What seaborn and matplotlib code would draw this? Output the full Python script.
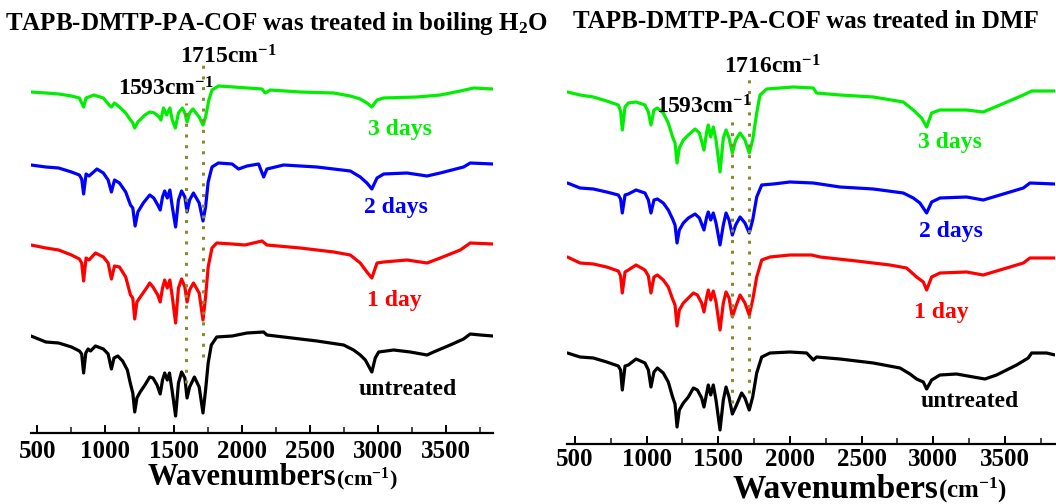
import matplotlib
matplotlib.use("Agg")
import matplotlib.pyplot as plt
import seaborn as sns
import numpy as np

# ---------------- data (wavenumber, relative transmittance in arbitrary units) ----------------
# Left panel: treated in boiling H2O
L_untreated_wn = [454, 563, 657, 751, 809, 826, 840, 856, 873, 891, 927, 985, 1020, 1044, 1063, 1091, 1126, 1161, 1184, 1201, 1215, 1231, 1255, 1290, 1325, 1349, 1379, 1402, 1419, 1435, 1454, 1470, 1489, 1515, 1536, 1559, 1583, 1599, 1618, 1653, 1688, 1716, 1735, 1754, 1777, 1817, 1930, 2039, 2161, 2185, 2308, 2552, 2748, 2821, 2870, 2907, 2955, 2980, 3005, 3115, 3237, 3360, 3408, 3530, 3628, 3677, 3751, 3844]
L_untreated_T = [97, 91, 90, 86, 82, 79, 60, 80, 84, 82, 87, 84, 79, 64, 75, 77, 72, 63, 49, 40, 21, 35, 41, 48, 56, 55, 48, 39, 53, 60, 53, 60, 43, 17, 50, 61, 55, 35, 46, 56, 46, 20, 43, 70, 88, 96, 97, 100, 101, 98, 96, 92, 88, 83, 78, 73, 61, 75, 81, 83, 81, 78, 81, 88, 94, 99, 98, 97]

L_1day_wn = [454, 563, 657, 751, 809, 826, 840, 858, 880, 927, 985, 1020, 1044, 1067, 1103, 1149, 1184, 1201, 1215, 1231, 1266, 1302, 1325, 1349, 1384, 1402, 1419, 1435, 1454, 1473, 1491, 1515, 1536, 1559, 1583, 1599, 1618, 1646, 1688, 1716, 1735, 1754, 1782, 1817, 1930, 2024, 2149, 2185, 2430, 2675, 2797, 2870, 2919, 2955, 2993, 3042, 3213, 3360, 3457, 3604, 3677, 3844]
L_1day_T = [188, 185, 183, 178, 174, 170, 152, 175, 173, 180, 176, 170, 154, 167, 166, 156, 138, 135, 114, 131, 138, 145, 150, 146, 138, 131, 145, 153, 145, 153, 136, 110, 145, 154, 146, 131, 143, 150, 140, 113, 136, 166, 185, 190, 189, 188, 192, 188, 185, 181, 178, 170, 161, 155, 170, 171, 173, 170, 175, 183, 190, 189]

L_2days_wn = [454, 563, 657, 751, 809, 826, 840, 858, 880, 938, 985, 1020, 1044, 1067, 1103, 1149, 1184, 1201, 1218, 1238, 1278, 1325, 1355, 1384, 1402, 1419, 1435, 1454, 1473, 1491, 1515, 1536, 1559, 1583, 1599, 1618, 1646, 1688, 1716, 1735, 1754, 1782, 1829, 1930, 1977, 2039, 2124, 2161, 2185, 2308, 2552, 2797, 2870, 2919, 2955, 2993, 3042, 3213, 3360, 3457, 3628, 3677, 3844]
L_2days_T = [268, 266, 265, 261, 258, 254, 239, 259, 257, 264, 260, 253, 241, 253, 250, 241, 228, 225, 207, 221, 230, 238, 235, 228, 223, 236, 242, 235, 243, 226, 206, 233, 242, 236, 221, 233, 240, 230, 212, 226, 251, 266, 270, 269, 264, 267, 269, 256, 264, 268, 266, 262, 256, 250, 244, 255, 259, 260, 257, 260, 266, 270, 269]

L_3days_wn = [454, 563, 657, 751, 809, 840, 858, 915, 985, 1027, 1044, 1067, 1103, 1149, 1184, 1201, 1215, 1238, 1290, 1325, 1360, 1395, 1407, 1426, 1449, 1473, 1491, 1513, 1536, 1564, 1583, 1599, 1618, 1642, 1688, 1716, 1735, 1759, 1782, 1829, 1941, 2149, 2173, 2210, 2430, 2675, 2797, 2870, 2919, 2955, 2993, 3042, 3286, 3457, 3604, 3702, 3844]
L_3days_T = [341, 340, 339, 337, 335, 326, 335, 338, 335, 328, 326, 330, 326, 320, 313, 310, 305, 311, 318, 321, 320, 316, 313, 325, 318, 325, 313, 305, 320, 325, 320, 311, 320, 324, 316, 308, 316, 333, 343, 347, 346, 344, 340, 343, 341, 340, 337, 334, 330, 326, 333, 335, 336, 338, 342, 345, 344]

# Right panel: treated in DMF
R_untreated_wn = [447, 535, 628, 721, 802, 818, 830, 849, 872, 926, 988, 1012, 1030, 1051, 1075, 1116, 1151, 1181, 1198, 1212, 1228, 1256, 1291, 1326, 1354, 1384, 1400, 1419, 1430, 1447, 1465, 1484, 1512, 1535, 1554, 1575, 1598, 1621, 1663, 1686, 1716, 1740, 1768, 1803, 1861, 2000, 2117, 2163, 2186, 2349, 2582, 2768, 2838, 2884, 2931, 2954, 2989, 3047, 3163, 3280, 3361, 3442, 3582, 3663, 3687, 3791, 3850]
R_untreated_T = [91, 87, 86, 82, 78, 74, 54, 78, 79, 85, 81, 74, 57, 72, 76, 71, 62, 47, 40, 17, 34, 41, 47, 56, 54, 46, 37, 51, 59, 49, 59, 44, 14, 44, 57, 47, 30, 37, 51, 46, 34, 47, 71, 87, 91, 92, 91, 84, 87, 85, 81, 76, 70, 65, 62, 55, 64, 69, 70, 67, 65, 69, 79, 86, 91, 91, 89]

R_1day_wn = [447, 535, 628, 721, 802, 818, 830, 849, 872, 926, 988, 1012, 1030, 1051, 1075, 1116, 1151, 1181, 1198, 1212, 1228, 1256, 1291, 1326, 1354, 1384, 1400, 1419, 1430, 1447, 1465, 1484, 1512, 1535, 1554, 1575, 1598, 1621, 1652, 1686, 1716, 1740, 1768, 1803, 1861, 2000, 2151, 2210, 2465, 2698, 2814, 2884, 2931, 2954, 2989, 3047, 3233, 3349, 3466, 3629, 3675, 3850]
R_1day_T = [187, 181, 180, 177, 173, 168, 151, 172, 174, 179, 174, 168, 151, 167, 169, 164, 157, 145, 139, 118, 134, 141, 146, 151, 149, 141, 132, 147, 154, 144, 153, 142, 114, 141, 152, 146, 127, 137, 149, 141, 129, 144, 167, 184, 187, 189, 189, 187, 183, 179, 176, 167, 162, 154, 167, 171, 172, 169, 174, 181, 186, 186]

R_2days_wn = [447, 535, 628, 721, 802, 818, 830, 849, 872, 926, 988, 1012, 1030, 1051, 1075, 1116, 1151, 1181, 1198, 1212, 1228, 1256, 1291, 1338, 1368, 1400, 1419, 1430, 1447, 1465, 1484, 1512, 1535, 1554, 1575, 1598, 1621, 1652, 1686, 1716, 1740, 1768, 1803, 1884, 2000, 2163, 2349, 2582, 2791, 2861, 2907, 2954, 2989, 3047, 3233, 3349, 3466, 3629, 3675, 3850]
R_2days_T = [261, 256, 255, 252, 249, 245, 231, 249, 250, 254, 251, 244, 231, 244, 245, 241, 234, 225, 219, 201, 214, 221, 226, 230, 226, 214, 227, 232, 224, 231, 221, 199, 219, 231, 224, 209, 219, 227, 221, 211, 224, 247, 259, 260, 262, 261, 257, 255, 251, 246, 241, 231, 242, 246, 247, 244, 249, 256, 261, 260]

R_3days_wn = [447, 535, 628, 721, 802, 818, 830, 849, 872, 926, 988, 1012, 1030, 1051, 1075, 1116, 1151, 1181, 1198, 1212, 1228, 1256, 1291, 1338, 1368, 1400, 1419, 1430, 1447, 1465, 1484, 1512, 1535, 1554, 1575, 1598, 1621, 1652, 1686, 1716, 1740, 1768, 1791, 1838, 2024, 2163, 2186, 2349, 2582, 2791, 2861, 2919, 2954, 2989, 3047, 3233, 3349, 3466, 3629, 3687, 3850]
R_3days_T = [352, 349, 347, 343, 339, 333, 314, 337, 341, 342, 339, 332, 319, 334, 336, 331, 321, 307, 301, 281, 296, 304, 309, 315, 311, 294, 312, 319, 307, 317, 304, 272, 306, 314, 306, 291, 304, 311, 304, 291, 304, 331, 349, 355, 357, 356, 351, 349, 347, 342, 334, 326, 317, 331, 334, 334, 332, 339, 349, 353, 353]

series_labels = ["untreated", "1 day", "2 days", "3 days"]
series_colors = ["#000000", "#ff0000", "#0000ff", "#00ee00"]

L_marks = [1593, 1715]
R_marks = [1593, 1716]

# ---------------- style ----------------
sns.set_style("white")
plt.rcParams["font.family"] = ["Liberation Serif", "DejaVu Serif"]
plt.rcParams["font.weight"] = "bold"
plt.rcParams["mathtext.fontset"] = "custom"
plt.rcParams["mathtext.rm"] = "Liberation Serif:bold"
plt.rcParams["mathtext.bf"] = "Liberation Serif:bold"
plt.rcParams["mathtext.it"] = "Liberation Serif:bold"

W, H = 1056, 504
fig = plt.figure(figsize=(W / 100, H / 100), dpi=100)


def frac(x, y):
    return x / W, 1 - y / H


def make_axes(left, right, bottom, top):
    x0, y0 = frac(left, bottom)
    return fig.add_axes([x0, y0, (right - left) / W, (bottom - top) / H])


axL = make_axes(31, 493, 433, 40)
axR = make_axes(567, 1055, 444, 40)

panels = [
    (axL, [(L_untreated_wn, L_untreated_T), (L_1day_wn, L_1day_T), (L_2days_wn, L_2days_T), (L_3days_wn, L_3days_T)], (454, 3844), 393, 5),
    (axR, [(R_untreated_wn, R_untreated_T), (R_1day_wn, R_1day_T), (R_2days_wn, R_2days_T), (R_3days_wn, R_3days_T)], (444, 3850), 404, 3),
]

for ax, data, xl, ytop, pad in panels:
    for (wn, tr), col in zip(data, series_colors):
        sns.lineplot(x=wn, y=tr, ax=ax, color=col, lw=2.3, estimator=None, sort=False)
    ax.set_xlim(*xl)
    ax.set_ylim(0, ytop)
    ax.set_yticks([])
    for s in ["top", "left", "right"]:
        ax.spines[s].set_visible(False)
    ax.spines["bottom"].set_linewidth(1.6)
    ax.spines["bottom"].set_color("black")
    ax.set_xticks(np.arange(500, 3501, 500))
    ax.set_xticks(np.arange(750, 3801, 500), minor=True)
    ax.tick_params(axis="x", which="major", direction="in", length=6, width=1.4,
                   labelsize=18, pad=pad, colors="black", bottom=True)
    ax.tick_params(axis="x", which="minor", direction="in", length=4, width=1.2, bottom=True)
    for lbl in ax.get_xticklabels():
        lbl.set_fontweight("bold")
    ax.set_xlabel("")
    ax.set_ylabel("")
    ax.patch.set_alpha(0)

olive = "#8a8a2e"
# dotted marker lines
axL.vlines(L_marks[0], 50, 330, colors=olive, linestyles=(0, (1, 2.5)), lw=2.2)
axL.vlines(L_marks[1], 76, 370, colors=olive, linestyles=(0, (1, 2.5)), lw=2.2)
axR.vlines(R_marks[0], 41, 324, colors=olive, linestyles=(0, (1, 2.5)), lw=2.2)
axR.vlines(R_marks[1], 51, 367, colors=olive, linestyles=(0, (1, 2.5)), lw=2.2)


def ftext(x, y, s, size, color="black", ha="left"):
    fx, fy = frac(x, y)
    fig.text(fx, fy, s, fontsize=size, color=color, ha=ha, va="baseline", fontweight="bold")


# titles
ftext(5, 30, r"TAPB-DMTP-PA-COF was treated in boiling H$_{2}$O", 18)
ftext(573, 28, "TAPB-DMTP-PA-COF was treated in DMF", 18)

# peak annotations
ftext(180, 63, "%dcm$^{-1}$" % L_marks[1], 17)
ftext(118, 95, "%dcm$^{-1}$" % L_marks[0], 17)
ftext(724, 73, "%dcm$^{-1}$" % R_marks[1], 17)
ftext(656, 114, "%dcm$^{-1}$" % R_marks[0], 17)

# curve labels
L_label_pos = [(359, 395), (367, 306), (364, 213), (368, 135)]
R_label_pos = [(921, 407), (914, 318), (919, 237), (918, 148)]
for (x, y), lab, col in zip(L_label_pos, series_labels, series_colors):
    ftext(x, y, lab, 17, color=col)
for (x, y), lab, col in zip(R_label_pos, series_labels, series_colors):
    ftext(x, y, lab, 17, color=col)

# x-axis labels
ftext(336, 485, "Wavenumbers", 22, ha="right")
ftext(336, 485, "(cm$^{-1}$)", 16)
ftext(938, 498, "Wavenumbers", 24, ha="right")
ftext(938, 498, "(cm$^{-1}$)", 18)

fig.savefig("out.png", dpi=100)
